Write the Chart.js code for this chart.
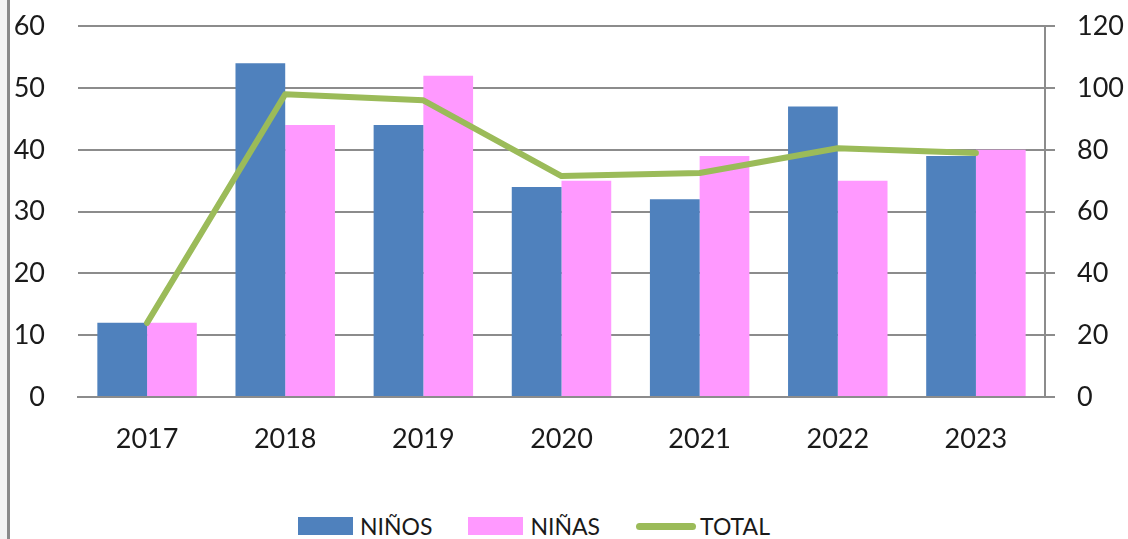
<!DOCTYPE html>
<html>
<head>
<meta charset="utf-8">
<script src="https://cdn.jsdelivr.net/npm/chart.js@4/dist/chart.umd.min.js"></script>
<style>
  html, body { margin: 0; padding: 0; background: #fff; overflow: hidden; }
  #wrap { position: relative; width: 1128px; height: 539px; overflow: hidden; }
  #edge { position: absolute; left: 0; top: 0; width: 7px; height: 539px; background: #f3f3f3; }
  #edgeLine { position: absolute; left: 7px; top: 0; width: 3px; height: 539px; background: #8a8a8a; z-index: 2; }
  #chartBox { position: absolute; left: 0; top: -23px; width: 1128px; height: 503px; }
  #legend { position: absolute; top: 512px; left: 298px; height: 28px; display: flex; align-items: center;
            font-family: Lato, "Open Sans", sans-serif; font-size: 23px; color: #1a1a1a; }
  .sw { display: inline-block; width: 55px; height: 18px; margin-right: 7px; }
  .ln { display: inline-block; width: 60px; height: 7px; border-radius: 4px; margin-right: 4px; }
  .item { display: flex; align-items: center; margin-right: 36px; }
</style>
</head>
<body>
<div id="wrap">
  <div id="edge"></div>
  <div id="chartBox"><canvas id="chart"></canvas></div>
  <div id="edgeLine"></div>
  <div id="legend"></div>
</div>
<script>
var years = ["2017", "2018", "2019", "2020", "2021", "2022", "2023"];
var ninos = [12, 54, 44, 34, 32, 47, 39];
var ninas = [12, 44, 52, 35, 39, 35, 40];
var total = [24, 98, 96, 71.5, 72.5, 80.5, 79];

var leftTicks = [0, 10, 20, 30, 40, 50, 60];
var rightTicks = [0, 20, 40, 60, 80, 100, 120];

var gridGray = "#8c8c8c";
var tickFont = { family: "Lato, 'Open Sans', sans-serif", size: 27 };

var c1 = document.getElementById("chart").getContext("2d");
var chart = new Chart(c1, {
    type: "bar",
    data: {
        labels: years,
        datasets: [{
            type: "line",
            label: "TOTAL",
            data: total,
            yAxisID: "y1",
            borderColor: "#9BBB59",
            backgroundColor: "#9BBB59",
            borderWidth: 6,
            pointRadius: 0,
            tension: 0,
            borderCapStyle: "round",
            borderJoinStyle: "round",
            order: 0
        }, {
            label: "NIÑOS",
            data: ninos,
            yAxisID: "y",
            backgroundColor: "#4F81BD",
            order: 1
        }, {
            label: "NIÑAS",
            data: ninas,
            yAxisID: "y",
            backgroundColor: "#FF99FF",
            order: 1
        }]
    },
    options: {
        responsive: true,
        maintainAspectRatio: false,
        animation: false,
        layout: { padding: { top: 8, left: 0, right: 0, bottom: 0 } },
        datasets: {
            bar: { categoryPercentage: 0.72, barPercentage: 1.0 }
        },
        plugins: {
            legend: { display: false },
            tooltip: { enabled: false }
        },
        scales: {
            x: {
                grid: { display: false, drawTicks: false },
                border: { display: true, color: gridGray, width: 2 },
                ticks: { color: "#1a1a1a", font: tickFont, padding: 26 },
                afterFit: function (s) { s.height = 83; }
            },
            y: {
                position: "left",
                min: 0, max: 60,
                afterBuildTicks: function (s) { s.ticks = leftTicks.map(v => ({ value: v })); },
                grid: { color: gridGray, lineWidth: 2, drawTicks: false },
                border: { display: false },
                ticks: { color: "#1a1a1a", font: tickFont, padding: 33 },
                afterFit: function (s) { s.width = 78; }
            },
            y1: {
                position: "right",
                min: 0, max: 120,
                afterBuildTicks: function (s) { s.ticks = rightTicks.map(v => ({ value: v })); },
                grid: { drawOnChartArea: false, color: gridGray, lineWidth: 2, tickLength: 10 },
                border: { display: true, color: gridGray, width: 2 },
                ticks: { color: "#1a1a1a", font: tickFont, padding: 22 },
                afterFit: function (s) { s.width = 83; }
            }
        }
    }
});

// legend below the chart
var legendItems = [
    { text: "NIÑOS", color: "#4F81BD", kind: "sw" },
    { text: "NIÑAS", color: "#FF99FF", kind: "sw" },
    { text: "TOTAL", color: "#9BBB59", kind: "ln" }
];
var legendEl = document.getElementById("legend");
legendItems.forEach(item => {
    legendEl.insertAdjacentHTML("beforeend",
        `<div class="item"><span class="${item.kind}" style="background:${item.color}"></span>${item.text}</div>`);
});
</script>
</body>
</html>
